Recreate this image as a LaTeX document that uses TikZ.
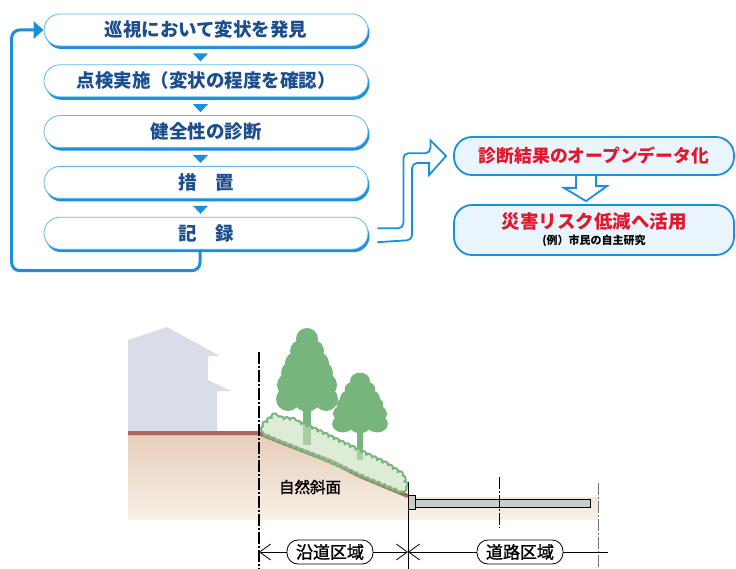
\documentclass[tikz,border=0pt]{standalone}
\usepackage{fontspec}
\setmainfont{Noto Sans CJK JP}
\newfontfamily\jpmid{Noto Sans CJK JP}[FakeBold=1.5]
\usetikzlibrary{positioning,shadows,arrows.meta,calc,decorations.pathmorphing}

\definecolor{flowblue}{HTML}{1A90DC}
\definecolor{flowline}{HTML}{62B8EA}
\definecolor{flowtext}{HTML}{1B4E8E}
\definecolor{paleblue}{HTML}{E9F4FC}
\definecolor{alertred}{HTML}{E3162B}
\definecolor{house}{HTML}{D9DCE9}
\definecolor{soil}{HTML}{A8695A}
\definecolor{soiltop}{HTML}{E6CDB8}
\definecolor{soilbot}{HTML}{F8F0E8}
\definecolor{leaf}{HTML}{78B57C}
\definecolor{bush}{HTML}{C6DFBB}
\definecolor{road}{HTML}{C9CDCD}

\tikzset{
  flowbox/.style={draw=flowline, line width=0.8pt, fill=white,
    rounded corners=16pt, minimum width=324pt, minimum height=32pt,
    text=flowtext, font=\bfseries\fontsize{18.5}{20}\selectfont,
    drop shadow={shadow xshift=1.5pt, shadow yshift=-3pt, fill=flowblue, opacity=1}},
  infobox/.style={draw=flowblue, line width=1.8pt, fill=paleblue,
    rounded corners=18pt, minimum width=280pt, text=alertred,
    font=\bfseries\fontsize{17.8}{19}\selectfont},
  hollow/.style={draw=flowblue, line width=1.8pt},
  zone/.style={draw, line width=0.8pt, fill=white, rounded corners=11pt,
    minimum height=24pt, inner xsep=9pt, font=\jpmid\fontsize{17}{19}\selectfont},
  dimline/.style={line width=0.8pt},
  centre/.style={line width=0.7pt, dash pattern=on 12pt off 2pt on 2pt off 2pt},
}

\begin{document}
\begin{tikzpicture}[x=1pt,y=-1pt,node distance=18pt]
\useasboundingbox (0,0) rectangle (736,569);

% inspection cycle
\node[flowbox] (b1) at (206,30) {巡視において変状を発見};
\node[flowbox,below=of b1] (b2) {点検実施（変状の程度を確認）};
\node[flowbox,below=of b2] (b3) {健全性の診断};
\node[flowbox,below=of b3] (b4) {措　置};
\node[flowbox,below=of b4] (b5) {記　録};
\foreach \i/\j in {b1/b2,b2/b3,b3/b4,b4/b5}
  \fill[flowblue] ($(\i.south)!.5!(\j.north)+(-13,-2)$) -- ++(15,0) -- ++(-7.5,8) -- cycle;
\draw[flowblue,line width=3pt,rounded corners=8pt,-{Triangle[length=10pt,width=17pt]}]
  ([xshift=-6pt]b5.south) -- ++(0,21) -| ([xshift=-32pt]b1.west) -- (b1.west);

% open data
\node[infobox,minimum height=38pt] (ra) at (594,156) {診断結果のオープンデータ化};
\node[infobox,minimum height=50pt,align=center] (rb) at (594,230)
  {{\fontsize{18.5}{20}\selectfont 災害リスク低減へ活用}\\[-3pt]
   {\color{black}\fontsize{11}{12}\selectfont (例）市民の自主研究}};
\coordinate (tail) at ([xshift=9pt]b5.east);
\coordinate (tip) at ([xshift=-7pt]ra.west);
\draw[hollow,rounded corners=5pt] ([yshift=5pt]tail) -- ++(26,0) -- ++(0,-75) -- ++(27,0)
  [sharp corners] -- ++(0,-13) -- (tip) -- ++(-17,19) -- ++(0,-12)
  [rounded corners=5pt] -- ++(-17,0) -- ++(0,77) -- ([yshift=-9pt]tail);
\draw[hollow] ([xshift=-18pt]ra.south) -- ++(0,12) -- ++(-12,0)
  -- ([xshift=-8pt,yshift=3pt]rb.north) -- ++(21,-15) -- ++(-11,0) -- ([xshift=2pt]ra.south);

% section of slope and road
\fill[house] (128,340) -- (167,327) -- (220,356) -- (208,356) -- (208,380) -- (231,391)
  -- (217,391) -- (217,434) -- (128,434) -- cycle;
\shade[top color=soiltop,bottom color=soilbot] (128,433) -- (259,433) -- (283,443)
  -- (317,456) -- (333,462) -- (360,476) -- (407,497) -- (598,497) -- (598,520)
  -- (128,520) -- cycle;
\draw[soil,line width=4pt,rounded corners=4pt] (128,433) -- (259,433) -- (283,443)
  -- (317,456) -- (333,462) -- (360,476) -- (408,496);

% trees
\foreach \tx/\ty/\sx/\sy/\tw/\tl in {307/327/1/1/4/118, 360/372/0.9/0.72/3.5/122}{
  \begin{scope}[shift={(\tx,\ty)},xscale=\sx,yscale=\sy]
    \fill[leaf] (-\tw,70) rectangle (\tw,\tl);
    \foreach \cx/\cy/\r in {0/12/11, 0/30/14, 0/50/20, 0/68/16,
        -6/24/11, 6/24/11, -11/36/11, 11/36/11, -14/46/12, 14/46/12,
        -18/58/12, 18/58/12, -19/72/12, 19/72/12, 0/73/12}
      \fill[leaf] (\cx,\cy) circle (\r);
  \end{scope}
}

% undergrowth on the slope
\filldraw[fill=bush,fill opacity=0.6,draw=leaf,line width=2pt,line join=round,
  decorate,decoration={bumps,segment length=12pt,amplitude=2.6pt}]
  (263,426) -- (272,418) -- (290,420) -- (310,428) -- (335,440) -- (360,452)
  -- (385,464) -- (402,475) -- (406,487) -- (402,491) -- (370,478) -- (350,469)
  -- (320,456) -- (303,449) -- (280,440) -- (264,433) -- cycle;
\node[font=\jpmid\fontsize{15.5}{17}\selectfont] (slope) at (310,487) {自然斜面};

% road
\draw[line width=1pt,fill=road] (408,495) rectangle (415,509);
\draw[line width=1pt,fill=road] (415,499) rectangle (590,507);

% boundaries
\draw[line width=2pt,dash pattern=on 12pt off 2pt on 2pt off 2pt] (259,352) -- (259,569);
\draw[line width=1pt] (408,482) -- (408,569);
\draw[centre] (499,477) -- (499,528);
\draw[centre,black!55] (598,483) -- (598,569);

% zones
\coordinate (d0) at (259,552);
\coordinate (d1) at (408,552);
\coordinate (d2) at (608,552);
\draw[dimline,{Straight Barb[length=11pt,width=16pt]}-{Straight Barb[length=11pt,width=16pt]}] (d0) -- (d1);
\draw[dimline,{Straight Barb[length=11pt,width=16pt]}-] (d1) -- (d2);
\node[zone] (z1) at (330,552) {沿道区域};
\node[zone] (z2) at (520,552) {道路区域};
\end{tikzpicture}
\end{document}
